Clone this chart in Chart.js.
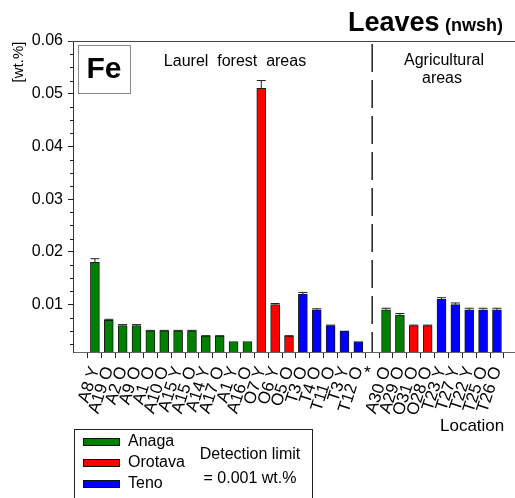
<!DOCTYPE html>
<html>
<head>
<meta charset="utf-8">
<script src="https://cdn.jsdelivr.net/npm/chart.js@4.4.1/dist/chart.umd.min.js"></script>
<style>
  body { margin: 0; background: #fff; }
  canvas { display: block; }
</style>
</head>
<body>
<canvas id="feChart" width="515" height="498"></canvas>
<script>
// Fe in leaves (nwsh), wt.%
const locations = ['A8 Y', 'A19 O', 'A2 O', 'A9 O', 'A1 O', 'A10 O', 'A15 Y', 'A15 O', 'A14 Y', 'A17 O',
  'A1 Y', 'A16 O', 'O7 Y', 'O6 Y', 'O5 O', 'T3 O', 'T4 O', 'T11 O', 'T3 Y', 'T12 O', '*',
  'A30 O', 'A29 O', 'O31 O', 'O28 O', 'T23 Y', 'T27 Y', 'T22 Y', 'T25 O', 'T26 O'];
const feValues = [0.018, 0.007, 0.006, 0.006, 0.005, 0.005, 0.005, 0.005, 0.004, 0.004,
  0.003, 0.003, 0.051, 0.010, 0.004, 0.012, 0.009, 0.006, 0.005, 0.003, null,
  0.009, 0.008, 0.006, 0.006, 0.011, 0.010, 0.009, 0.009, 0.009];
const feErrors = [0.0007, 0.0002, 0.0002, 0.0002, 0.0001, 0.0001, 0.0001, 0.0001, 0.0001, 0.0001,
  0, 0, 0.0015, 0.0002, 0.0001, 0.0003, 0.0002, 0.0001, 0, 0, null,
  0.0003, 0.0003, 0.0001, 0.0001, 0.0003, 0.0003, 0.0003, 0.0003, 0.0003];
const areas = ['Anaga', 'Anaga', 'Anaga', 'Anaga', 'Anaga', 'Anaga', 'Anaga', 'Anaga', 'Anaga', 'Anaga',
  'Anaga', 'Anaga', 'Orotava', 'Orotava', 'Orotava', 'Teno', 'Teno', 'Teno', 'Teno', 'Teno', '',
  'Anaga', 'Anaga', 'Orotava', 'Orotava', 'Teno', 'Teno', 'Teno', 'Teno', 'Teno'];
const yMajorTicks = [0.01, 0.02, 0.03, 0.04, 0.05, 0.06];
const yMinorStep = 0.0025;
const splitIndex = 20;

const areaColors = { Anaga: '#008000', Orotava: '#ff0000', Teno: '#0000ff', '': 'rgba(0,0,0,0)' };
const FONT = "'Liberation Sans', Arial, sans-serif";

const extras = {
  id: 'extras',
  afterDatasetsDraw(chart) {
    const ctx = chart.ctx, x = chart.scales.x, y = chart.scales.y, a = chart.chartArea;
    ctx.save();
    // error bars
    ctx.strokeStyle = '#222';
    ctx.lineWidth = 1;
    feValues.forEach((v, i) => {
      const e = feErrors[i];
      if (v == null || !e) return;
      const px = x.getPixelForValue(i);
      const y0 = y.getPixelForValue(v), y1 = y.getPixelForValue(v + e);
      ctx.beginPath();
      ctx.moveTo(px, y0); ctx.lineTo(px, y1);
      ctx.moveTo(px - 4.5, y1); ctx.lineTo(px + 4.5, y1);
      ctx.stroke();
    });
    // dashed split line
    const sx = x.getPixelForValue(splitIndex);
    ctx.setLineDash([28, 8]);
    ctx.lineWidth = 1.5;
    ctx.beginPath();
    ctx.moveTo(sx, a.top + 3); ctx.lineTo(sx, a.bottom);
    ctx.stroke();
    ctx.setLineDash([]);
    ctx.restore();
  },
  afterDraw(chart) {
    const ctx = chart.ctx, y = chart.scales.y, a = chart.chartArea;
    ctx.save();
    // top frame line
    ctx.strokeStyle = '#444';
    ctx.lineWidth = 1;
    ctx.beginPath();
    ctx.moveTo(a.left - 3, a.top + 0.5); ctx.lineTo(a.right, a.top + 0.5);
    ctx.stroke();
    // minor y ticks
    ctx.strokeStyle = '#222';
    for (let v = yMinorStep; v < 0.06; v += yMinorStep) {
      if (Math.abs(v / 0.01 - Math.round(v / 0.01)) < 1e-6) continue;
      const py = Math.round(y.getPixelForValue(v)) + 0.5;
      ctx.beginPath();
      ctx.moveTo(a.left - 3, py); ctx.lineTo(a.left + 1, py);
      ctx.stroke();
    }
    ctx.fillStyle = '#000';
    // title
    ctx.textBaseline = 'alphabetic';
    ctx.textAlign = 'left';
    ctx.font = 'bold 27px ' + FONT;
    ctx.fillText('Leaves', 348, 31);
    ctx.font = 'bold 18px ' + FONT;
    ctx.fillText('(nwsh)', 445, 31);
    // element box
    ctx.strokeStyle = '#888';
    ctx.strokeRect(78.5, 45.5, 52, 48);
    ctx.font = 'bold 30px ' + FONT;
    ctx.textAlign = 'center';
    ctx.textBaseline = 'middle';
    ctx.fillText('Fe', 104, 70);
    // area labels
    ctx.font = '16px ' + FONT;
    ctx.fillText('Laurel  forest  areas', 235, 62);
    ctx.fillText('Agricultural', 444, 61);
    ctx.fillText('areas', 442, 79);
    // y title
    ctx.save();
    ctx.translate(19, 62);
    ctx.rotate(-Math.PI / 2);
    ctx.font = '15px ' + FONT;
    ctx.fillText('[wt.%]', 0, 0);
    ctx.restore();
    // x title
    ctx.textAlign = 'left';
    ctx.font = '17px ' + FONT;
    ctx.fillText('Location', 440, 426);
    // legend box
    ctx.font = '16px ' + FONT;
    ctx.strokeStyle = '#222';
    ctx.strokeRect(74.5, 429.5, 238, 80);
    ['Anaga', 'Orotava', 'Teno'].forEach((name, k) => {
      const cy = 442 + k * 21;
      ctx.fillStyle = areaColors[name];
      ctx.fillRect(83, cy - 4, 37, 8);
      ctx.strokeStyle = '#111';
      ctx.strokeRect(83.5, cy - 3.5, 36, 7);
      ctx.fillStyle = '#000';
      ctx.textAlign = 'left';
      ctx.fillText(name, 128, cy);
    });
    ctx.textAlign = 'center';
    ctx.fillText('Detection limit', 250, 455);
    ctx.fillText('= 0.001 wt.%', 250, 479);
    ctx.restore();
  }
};

new Chart(document.getElementById('feChart'), {
  type: 'bar',
  data: {
    datasets: [{
      data: feValues.map((v, i) => ({ x: i, y: v })),
      backgroundColor: areas.map(r => areaColors[r]),
      borderColor: '#1a1a1a',
      borderWidth: 1,
      barThickness: 9
    }]
  },
  options: {
    responsive: false,
    animation: false,
    layout: { padding: { top: 41, right: 0, left: 0, bottom: 0 } },
    plugins: { legend: { display: false }, tooltip: { enabled: false } },
    scales: {
      x: {
        type: 'linear',
        min: -1.05,
        max: 29.77,
        grid: { drawOnChartArea: false, tickLength: 6, color: '#222' },
        border: { color: '#666', width: 1 },
        afterBuildTicks: s => { s.ticks = locations.map((l, i) => ({ value: i })); },
        afterFit: s => { s.height = 146; s.paddingLeft = 0; s.paddingRight = 0; },
        ticks: {
          autoSkip: false,
          minRotation: 72,
          maxRotation: 72,
          padding: 6,
          color: '#000',
          font: { family: FONT, size: 17 },
          callback: v => locations[v]
        }
      },
      y: {
        min: 0.001,
        max: 0.06,
        grid: { drawOnChartArea: false, tickLength: 5, color: '#222' },
        border: { color: '#333', width: 1 },
        afterBuildTicks: s => { s.ticks = yMajorTicks.map(v => ({ value: v })); },
        afterFit: s => { s.width = 73; },
        ticks: {
          padding: 5,
          color: '#000',
          font: { family: FONT, size: 16 },
          callback: v => v.toFixed(2)
        }
      }
    }
  },
  plugins: [extras]
});
</script>
</body>
</html>
